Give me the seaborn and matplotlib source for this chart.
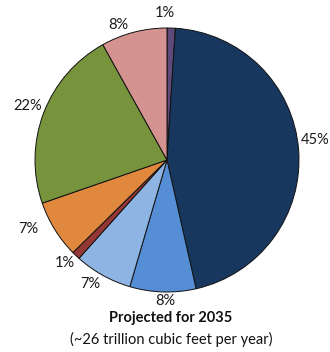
import numpy as np
import matplotlib
matplotlib.use("Agg")
import matplotlib.pyplot as plt
import seaborn as sns

# Share of projected consumption by sector, clockwise from 12 o'clock
sectors = ["Other", "Electric power", "Industrial", "Commercial",
           "Transportation", "Lease & plant", "Residential", "Pipeline"]
shares = [1, 45, 8, 7, 1, 7, 22, 8]
labels = [f"{v}%" for v in shares]
colors = ["#604A7B", "#17375E", "#558ED5", "#8DB4E2",
          "#953735", "#E0883E", "#77933C", "#D49391"]
# placement of each percentage label: radius (in pie radii) and
# angular nudge (degrees, counter-clockwise) from the wedge centre
label_dist = [1.11, 1.135, 1.065, 1.105, 1.10, 1.175, 1.135, 1.09]
label_shift = [2.6, 3.1, 1.0, -2.7, -1.1, -5.4, -0.2, 5.3]

title = "Projected for 2035"
subtitle = "(~26 trillion cubic feet per year)"

sns.set_theme(style="white")
plt.rcParams["font.family"] = ["Lato", "DejaVu Sans"]

fig = plt.figure(figsize=(3.3, 3.52), dpi=100)
fig.patch.set_facecolor("white")
W, H = 330, 352
ax = fig.add_axes([35 / W, (H - 292) / H, 264 / W, 264 / H])

wedges, _ = ax.pie(
    shares,
    colors=colors,
    startangle=90,
    counterclock=False,
    radius=1.0,
    wedgeprops=dict(edgecolor="#111111", linewidth=0.7),
)

total = float(sum(shares))
cum = 0.0
for v, lab, d, s in zip(shares, labels, label_dist, label_shift):
    mid = cum + v / 2.0
    ang = np.deg2rad(90 - 360 * mid / total + s)
    ax.text(d * np.cos(ang), d * np.sin(ang), lab, ha="center", va="center",
            fontsize=10.5, color="#1A1A1A", clip_on=False)
    cum += v

ax.set_xlim(-1, 1)
ax.set_ylim(-1, 1)
ax.set_aspect("equal")
ax.axis("off")

fig.text(171 / W, 1 - 318 / H, title, ha="center", va="center",
         fontsize=10.5, fontweight="bold", color="#111111")
fig.text(171 / W, 1 - 339 / H, subtitle, ha="center", va="center",
         fontsize=10.5, color="#111111")

fig.savefig("out.png", dpi=100, facecolor="white")
